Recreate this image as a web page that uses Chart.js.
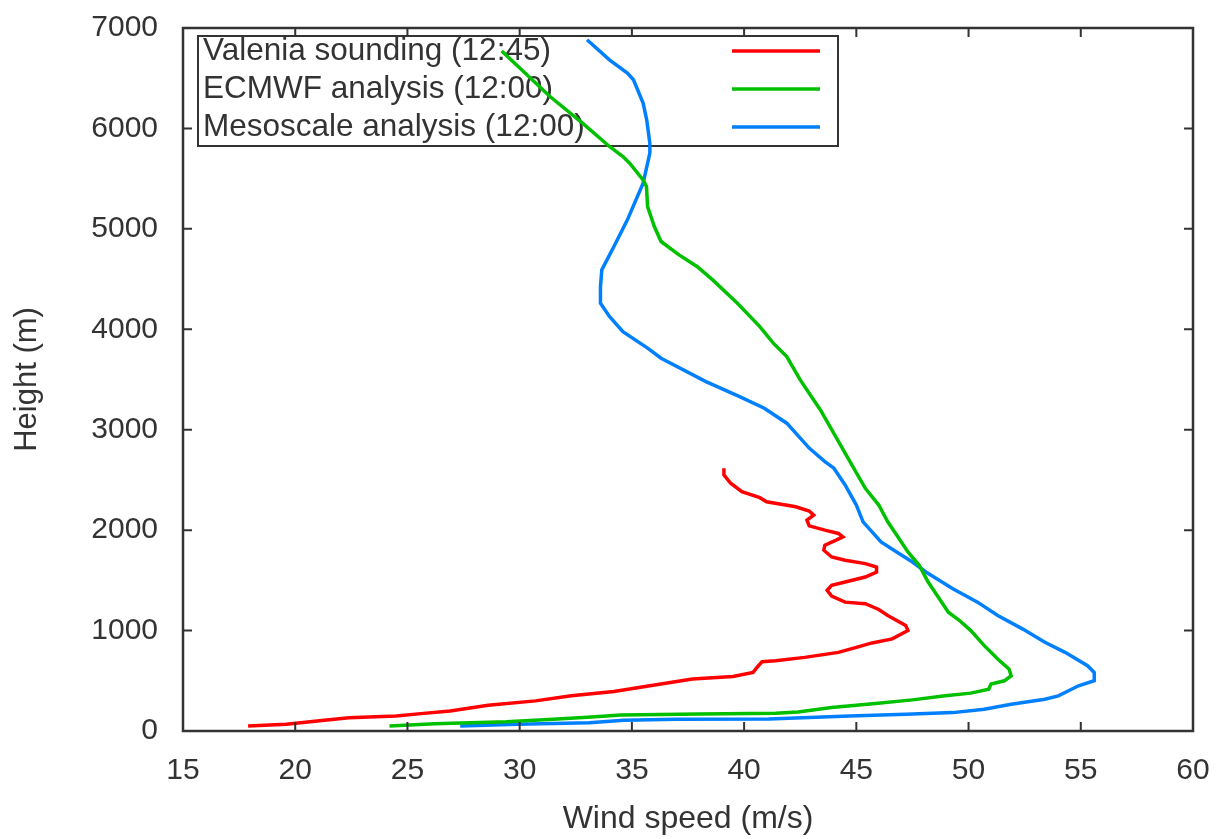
<!DOCTYPE html>
<html>
<head>
<meta charset="utf-8">
<script src="https://cdn.jsdelivr.net/npm/chart.js@4/dist/chart.umd.min.js"></script>
<style>
  body { margin: 0; background: #fff; }
  #wind { display: block; }
</style>
</head>
<body>
<canvas id="wind" width="1219" height="839"></canvas>
<script>
// Valenia sounding (12:45)
const valSpeed = [17.9, 19.6, 21.3, 22.4, 24.5, 25.6, 26.9, 28.6, 30.7, 32.3, 34.2, 35.8, 37.7, 39.5, 40.4, 40.6, 40.8, 41.4, 42.7, 44.2, 45.0, 45.7, 46.6, 47.3, 47.2, 46.4, 46.0, 45.4, 44.5, 43.9, 43.7, 43.9, 44.5, 45.4, 45.9, 45.9, 45.4, 44.5, 43.9, 43.55, 43.6, 44.1, 44.4, 44.2, 43.6, 42.9, 42.8, 43.1, 42.9, 42.3, 41.0, 40.7, 39.9, 39.4, 39.1, 39.1];
const valHeight = [50, 67, 107, 133, 150, 173, 200, 257, 300, 350, 393, 450, 517, 543, 583, 640, 690, 700, 733, 783, 833, 877, 917, 1000, 1050, 1150, 1210, 1267, 1283, 1343, 1400, 1450, 1483, 1533, 1583, 1633, 1667, 1700, 1733, 1800, 1850, 1900, 1933, 1967, 2000, 2043, 2100, 2150, 2190, 2233, 2283, 2323, 2383, 2467, 2550, 2617];

// ECMWF analysis (12:00)
const ecSpeed = [24.2, 26.2, 29.4, 31.5, 33.2, 34.5, 38.0, 41.4, 42.4, 43.9, 45.85, 47.5, 48.96, 50.1, 50.9, 51.0, 51.6, 51.9, 51.8, 51.3, 50.7, 50.1, 49.6, 49.1, 48.7, 48.2, 47.8, 47.3, 46.9, 46.4, 46.0, 45.4, 44.8, 43.4, 42.5, 41.9, 41.3, 40.7, 39.7, 38.6, 37.9, 37.1, 36.3, 36.0, 35.7, 35.65, 35.5, 34.9, 34.6, 34.0, 32.8, 31.35, 29.2];
const ecHeight = [50, 73, 93, 117, 140, 160, 170, 177, 190, 233, 273, 310, 350, 377, 417, 467, 500, 550, 617, 717, 850, 1000, 1100, 1183, 1317, 1483, 1650, 1783, 1917, 2083, 2250, 2417, 2650, 3197, 3496, 3728, 3862, 4027, 4260, 4492, 4625, 4741, 4874, 5023, 5222, 5421, 5488, 5654, 5720, 5820, 6052, 6318, 6770];

// Mesoscale analysis (12:00)
const mesoSpeed = [27.35, 29.9, 33.1, 34.65, 37.0, 41.1, 44.7, 47.2, 49.3, 50.7, 51.9, 53.4, 54.0, 54.9, 55.6, 55.6, 55.3, 54.3, 53.4, 52.4, 51.3, 50.4, 49.3, 48.1, 47.5, 46.9, 46.1, 45.7, 45.3, 45.0, 44.5, 44.0, 43.6, 42.9, 41.9, 40.9, 39.8, 38.3, 36.3, 35.7, 34.6, 34.0, 33.6, 33.6, 33.66, 34.2, 34.8, 35.5, 35.8, 35.8, 35.66, 35.5, 35.07, 34.8, 34.0, 33.0];
const mesoHeight = [50, 67, 83, 107, 117, 120, 150, 167, 183, 217, 267, 317, 350, 450, 500, 583, 650, 783, 883, 1017, 1150, 1283, 1417, 1583, 1683, 1767, 1883, 1983, 2083, 2250, 2450, 2617, 2683, 2817, 3065, 3214, 3330, 3479, 3712, 3812, 3977, 4127, 4260, 4425, 4592, 4824, 5090, 5455, 5754, 5853, 6086, 6252, 6484, 6551, 6683, 6883];

const seriesNames = ["Valenia sounding (12:45)", "ECMWF analysis (12:00)", "Mesoscale analysis (12:00)"];
const seriesColors = ["#ff0000", "#00c000", "#0080ff"];

const xTicks = [15, 20, 25, 30, 35, 40, 45, 50, 55, 60];
const yTicks = [0, 1000, 2000, 3000, 4000, 5000, 6000, 7000];

const FONT = "'Liberation Sans', Arial, sans-serif";
const INK = "#333333";

function pairs(xs, ys) {
    return xs.map((v, i) => ({ x: v, y: ys[i] }));
}

// frame round the plot, ticks pointing inward on all four sides, plus the key
const framePlugin = {
    id: "frame",
    beforeDatasetsDraw(chart) {
        const ctx = chart.ctx;
        const a = chart.chartArea;
        // legend box (no fill, curves go over it)
        const bx = a.left + 15, by = a.top + 8, bw = 640, bh = 110;
        ctx.save();
        ctx.strokeStyle = INK;
        ctx.lineWidth = 2;
        ctx.strokeRect(bx, by, bw, bh);
        ctx.font = "31.5px " + FONT;
        ctx.fillStyle = INK;
        ctx.textBaseline = "middle";
        ctx.textAlign = "left";
        chart.data.datasets.forEach((ds, i) => {
            const ly = by + 15 + i * 38;
            ctx.fillText(ds.label, bx + 5, ly);
            ctx.strokeStyle = ds.borderColor;
            ctx.lineWidth = 3.5;
            ctx.beginPath();
            ctx.moveTo(bx + 534, ly);
            ctx.lineTo(bx + 622, ly);
            ctx.stroke();
        });
        ctx.restore();
    },
    afterDraw(chart) {
        const ctx = chart.ctx;
        const a = chart.chartArea;
        const xs = chart.scales.x, ys = chart.scales.y;
        const len = 9;
        ctx.save();
        ctx.strokeStyle = INK;
        ctx.lineWidth = 2;
        ctx.beginPath();
        xTicks.forEach(t => {
            const px = xs.getPixelForValue(t);
            ctx.moveTo(px, a.bottom); ctx.lineTo(px, a.bottom - len);
            ctx.moveTo(px, a.top); ctx.lineTo(px, a.top + len);
        });
        yTicks.forEach(t => {
            const py = ys.getPixelForValue(t);
            ctx.moveTo(a.left, py); ctx.lineTo(a.left + len, py);
            ctx.moveTo(a.right, py); ctx.lineTo(a.right - len, py);
        });
        ctx.stroke();
        ctx.lineWidth = 2.5;
        ctx.strokeRect(a.left, a.top, a.right - a.left, a.bottom - a.top);
        ctx.restore();
    }
};

const windChart = new Chart(document.getElementById("wind").getContext("2d"), {
    type: "scatter",
    data: {
        datasets: [
            { label: seriesNames[0], data: pairs(valSpeed, valHeight), borderColor: seriesColors[0], backgroundColor: seriesColors[0] },
            { label: seriesNames[1], data: pairs(ecSpeed, ecHeight), borderColor: seriesColors[1], backgroundColor: seriesColors[1] },
            { label: seriesNames[2], data: pairs(mesoSpeed, mesoHeight), borderColor: seriesColors[2], backgroundColor: seriesColors[2] },
        ],
    },
    options: {
        responsive: false,
        animation: false,
        showLine: true,
        elements: {
            point: { radius: 0, hoverRadius: 0 },
            line: { borderWidth: 3.5, tension: 0 },
        },
        layout: { padding: { top: 28, right: 26, left: 0, bottom: 0 } },
        plugins: {
            legend: { display: false },
            tooltip: { enabled: false },
        },
        scales: {
            x: {
                type: "linear",
                min: 15,
                max: 60,
                afterFit(scale) {
                    scale.height = 108;
                    scale.paddingLeft = 0;
                    scale.paddingRight = 0;
                },
                afterBuildTicks(scale) { scale.ticks = xTicks.map(v => ({ value: v })); },
                ticks: { color: INK, font: { family: FONT, size: 30 }, padding: 22, callback: v => String(v) },
                grid: { display: false, drawTicks: false },
                border: { display: false },
                title: { display: true, text: "Wind speed (m/s)", color: INK, font: { family: FONT, size: 32 }, padding: { top: 0, bottom: 1 } },
            },
            y: {
                type: "linear",
                min: 0,
                max: 7000,
                afterFit(scale) {
                    scale.width = 183;
                    scale.paddingTop = 0;
                    scale.paddingBottom = 0;
                },
                afterBuildTicks(scale) { scale.ticks = yTicks.map(v => ({ value: v })); },
                ticks: { color: INK, font: { family: FONT, size: 30 }, padding: 25, callback: v => String(v) },
                grid: { display: false, drawTicks: false },
                border: { display: false },
                title: { display: true, text: "Height (m)", color: INK, font: { family: FONT, size: 31 }, padding: { top: 9, bottom: 0 } },
            },
        },
    },
    plugins: [framePlugin],
});
</script>
</body>
</html>
